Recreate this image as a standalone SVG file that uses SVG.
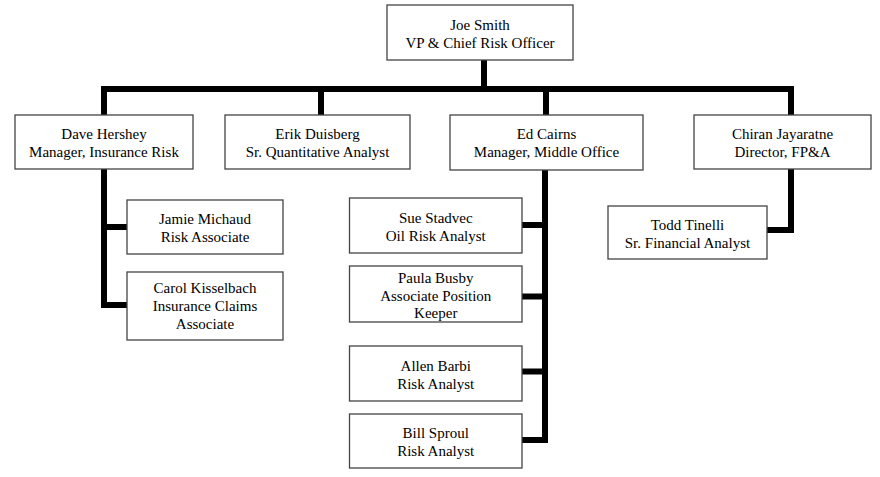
<svg xmlns="http://www.w3.org/2000/svg" width="880" height="477" viewBox="0 0 880 477">
<style>
.box{fill:#fff;stroke:#444;stroke-width:1.3}
.t{font-family:"Liberation Serif","Times New Roman",serif;font-size:15px;fill:#000;text-anchor:middle}
.c{fill:none;stroke:#000;stroke-width:6;stroke-linejoin:miter;stroke-linecap:butt}
</style>
<rect width="880" height="477" fill="#fff"/>
<g id="connectors">
<path class="c" d="M484,60 V89"/>
<path class="c" d="M104,115 V89 H791 V115"/>
<path class="c" d="M321,89 V115"/>
<path class="c" d="M546,89 V115"/>
<path class="c" d="M104,169 V305 H127"/>
<path class="c" d="M104,227 H127"/>
<path class="c" d="M545,170 V440 H522"/>
<path class="c" d="M545,225 H522"/>
<path class="c" d="M545,296.5 H522"/>
<path class="c" d="M545,371.5 H522"/>
<path class="c" d="M791,169 V230 H767"/>
</g>
<g id="joe"><rect class="box" x="387" y="5" width="186" height="55"/><text class="t" x="480" y="29.5">Joe Smith</text><text class="t" x="480" y="47.5">VP &amp; Chief Risk Officer</text></g>
<g id="dave"><rect class="box" x="15" y="115" width="178" height="54"/><text class="t" x="104" y="139">Dave Hershey</text><text class="t" x="104" y="157">Manager, Insurance Risk</text></g>
<g id="erik"><rect class="box" x="225" y="115" width="185" height="54"/><text class="t" x="317.5" y="139">Erik Duisberg</text><text class="t" x="317.5" y="157">Sr. Quantitative Analyst</text></g>
<g id="ed"><rect class="box" x="450" y="115" width="193" height="55"/><text class="t" x="546.5" y="139">Ed Cairns</text><text class="t" x="546.5" y="157">Manager, Middle Office</text></g>
<g id="chiran"><rect class="box" x="694" y="115" width="177" height="54"/><text class="t" x="782.5" y="139">Chiran Jayaratne</text><text class="t" x="782.5" y="157">Director, FP&amp;A</text></g>
<g id="jamie"><rect class="box" x="127" y="200" width="156" height="54"/><text class="t" x="205" y="224">Jamie Michaud</text><text class="t" x="205" y="242">Risk Associate</text></g>
<g id="carol"><rect class="box" x="127" y="272" width="156" height="68"/><text class="t" x="205" y="293">Carol Kisselbach</text><text class="t" x="205" y="311">Insurance Claims</text><text class="t" x="205" y="329">Associate</text></g>
<g id="sue"><rect class="box" x="349.5" y="198" width="172.5" height="55"/><text class="t" x="435.75" y="222.5">Sue Stadvec</text><text class="t" x="435.75" y="240.5">Oil Risk Analyst</text></g>
<g id="paula"><rect class="box" x="349.5" y="266" width="172.5" height="56"/><text class="t" x="435.75" y="283">Paula Busby</text><text class="t" x="435.75" y="300.5">Associate Position</text><text class="t" x="435.75" y="318">Keeper</text></g>
<g id="allen"><rect class="box" x="349.5" y="346" width="172.5" height="55"/><text class="t" x="435.75" y="370.5">Allen Barbi</text><text class="t" x="435.75" y="388.5">Risk Analyst</text></g>
<g id="bill"><rect class="box" x="349.5" y="414" width="172.5" height="54"/><text class="t" x="435.75" y="438">Bill Sproul</text><text class="t" x="435.75" y="456">Risk Analyst</text></g>
<g id="todd"><rect class="box" x="608" y="206" width="159" height="53"/><text class="t" x="687.5" y="229.5">Todd Tinelli</text><text class="t" x="687.5" y="247.5">Sr. Financial Analyst</text></g>
</svg>
